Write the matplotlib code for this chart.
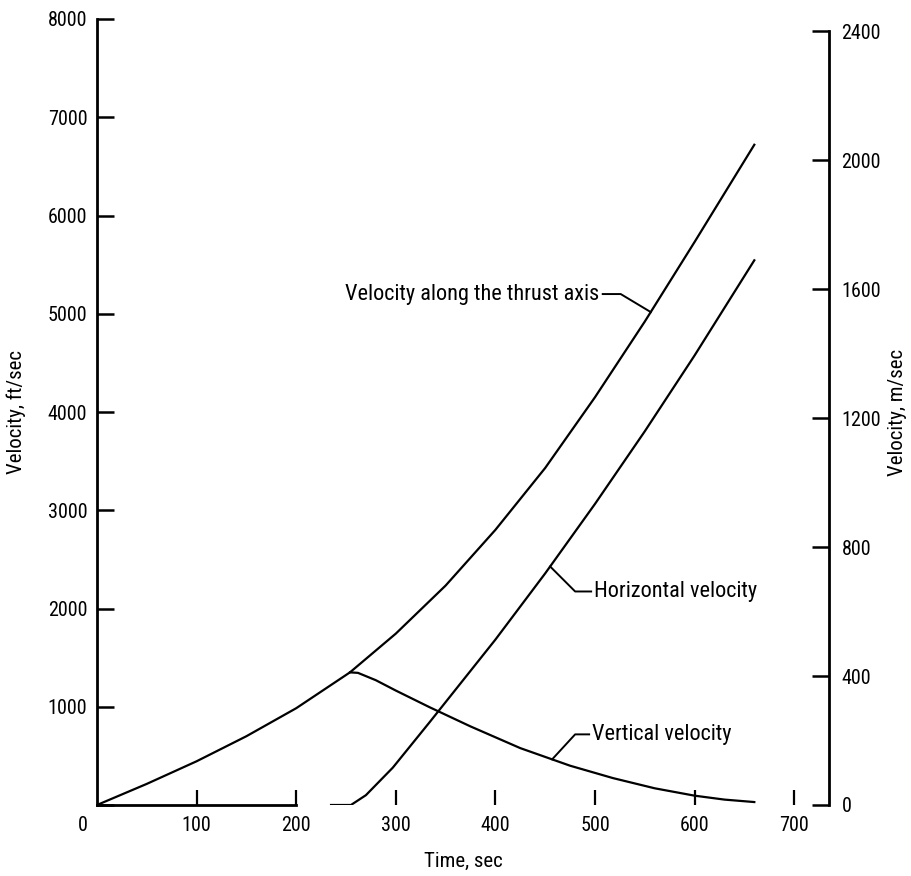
import numpy as np
import matplotlib
matplotlib.use("Agg")
import matplotlib.pyplot as plt
import matplotlib.transforms as mtransforms
from matplotlib import font_manager as fm

# ---------------- data ----------------
t_thrust = [0, 50, 100, 150, 200, 254, 300, 350, 400, 450, 500, 550, 600, 660]
v_thrust = [0, 215, 445, 700, 985, 1350, 1744, 2233, 2800, 3430, 4150, 4920, 5730, 6720]

t_horiz = [235, 255, 270, 297, 334, 400, 450, 500, 550, 600, 660]
v_horiz = [0, 0, 100, 380, 843, 1683, 2357, 3064, 3803, 4575, 5544]

t_vert = [254, 262, 280, 300, 334, 375, 425, 475, 518, 560, 600, 630, 660]
v_vert = [1350, 1345, 1270, 1165, 995, 800, 579, 400, 274, 170, 95, 55, 30]

x_ticks = [0, 100, 200, 300, 400, 500, 600, 700]
y_ticks_ft = [0, 1000, 2000, 3000, 4000, 5000, 6000, 7000, 8000]
y_ticks_m = [0, 400, 800, 1200, 1600, 2000, 2400]
FT_TO_M = 0.3048

# ---------------- font selection ----------------
family = 'DejaVu Sans'
for cand in ['Roboto Condensed', 'Liberation Sans Narrow', 'Archivo Narrow', 'Barlow Semi Condensed']:
    try:
        fm.findfont(fm.FontProperties(family=cand), fallback_to_default=False)
        family = cand
        break
    except Exception:
        pass
plt.rcParams['font.family'] = [family, 'DejaVu Sans']

fig = plt.figure(figsize=(9.12, 8.76), dpi=100)
ax = fig.add_axes([97 / 912, 71 / 876, 732 / 912, 786 / 876])
ax.set_xlim(0, 735)
ax.set_ylim(0, 8000)

lw = 1.6
ax.plot(t_thrust, v_thrust, color='black', lw=lw)
ax.plot(t_horiz, v_horiz, color='black', lw=lw)
ax.plot(t_vert, v_vert, color='black', lw=lw)

fs_tick = 14.5
fs_lab = 15
fs_txt = 16

ax.spines['top'].set_visible(False)
ax.spines['right'].set_visible(False)
ax.spines['left'].set_linewidth(2)
ax.spines['bottom'].set_linewidth(2)
ax.spines['left'].set_bounds(0, 8000)
ax.spines['bottom'].set_bounds(0, 200)

ax.set_xticks(x_ticks)
ax.set_xticklabels([str(v) for v in x_ticks])
ax.tick_params(axis='x', direction='in', length=11, width=1.6, pad=8, labelsize=fs_tick)
ax.set_yticks(y_ticks_ft)
ax.set_yticklabels([''] + [str(v) for v in y_ticks_ft[1:]])
ax.tick_params(axis='y', direction='in', length=12, width=1.8, pad=7, labelsize=fs_tick)
ax.xaxis.get_major_ticks()[0].tick1line.set_visible(False)
lbl0 = ax.get_xticklabels()[0]
lbl0.set_transform(lbl0.get_transform() + mtransforms.ScaledTranslation(-14 / 100, 0, fig.dpi_scale_trans))

ax.set_xlabel('Time, sec', fontsize=fs_lab, labelpad=12)
ax.set_ylabel('Velocity, ft/sec', fontsize=fs_lab)
ax.yaxis.set_label_coords((26 - 97) / 732, 0.5)

ax2 = ax.twinx()
ax2.set_ylim(0, 8000 * FT_TO_M)
ax2.set_yticks(y_ticks_m)
ax2.set_yticklabels([str(v) for v in y_ticks_m])
for s in ['top', 'left', 'bottom']:
    ax2.spines[s].set_visible(False)
ax2.spines['right'].set_linewidth(2)
ax2.spines['right'].set_bounds(0, 2400)
ax2.tick_params(axis='y', direction='in', length=12, width=1.8, pad=9, labelsize=fs_tick)
ax2.set_ylabel('Velocity, m/sec', fontsize=fs_lab, rotation=90)
ax2.yaxis.set_label_coords((888 - 97) / 732, 0.5)


def leader(t_src, v_src, t_at, knee_dx, knee_dy, dash, text):
    v_at = float(np.interp(t_at, t_src, v_src))
    base = ax.transData
    p0 = base.transform((t_at, v_at))
    inv = fig.transFigure.inverted()
    a = inv.transform(p0)
    b = inv.transform((p0[0] + knee_dx, p0[1] + knee_dy))
    c = inv.transform((p0[0] + knee_dx + dash, p0[1] + knee_dy))
    fig.lines.append(plt.Line2D([a[0], b[0], c[0]], [a[1], b[1], c[1]],
                                transform=fig.transFigure, color='black', lw=1.4))
    off = 3 if dash > 0 else -3
    ax.text(t_at, v_at, text,
            transform=mtransforms.offset_copy(base, fig=fig, x=knee_dx + dash + off, y=knee_dy, units='dots'),
            ha='left' if dash > 0 else 'right', va='center', fontsize=fs_txt)


leader(t_thrust, v_thrust, 556, -30, 18, -18, 'Velocity along the thrust axis')
leader(t_horiz, v_horiz, 455, 25, -25, 16, 'Horizontal velocity')
leader(t_vert, v_vert, 457, 23, 25, 14, 'Vertical velocity')

fig.savefig('out.png', dpi=100)
